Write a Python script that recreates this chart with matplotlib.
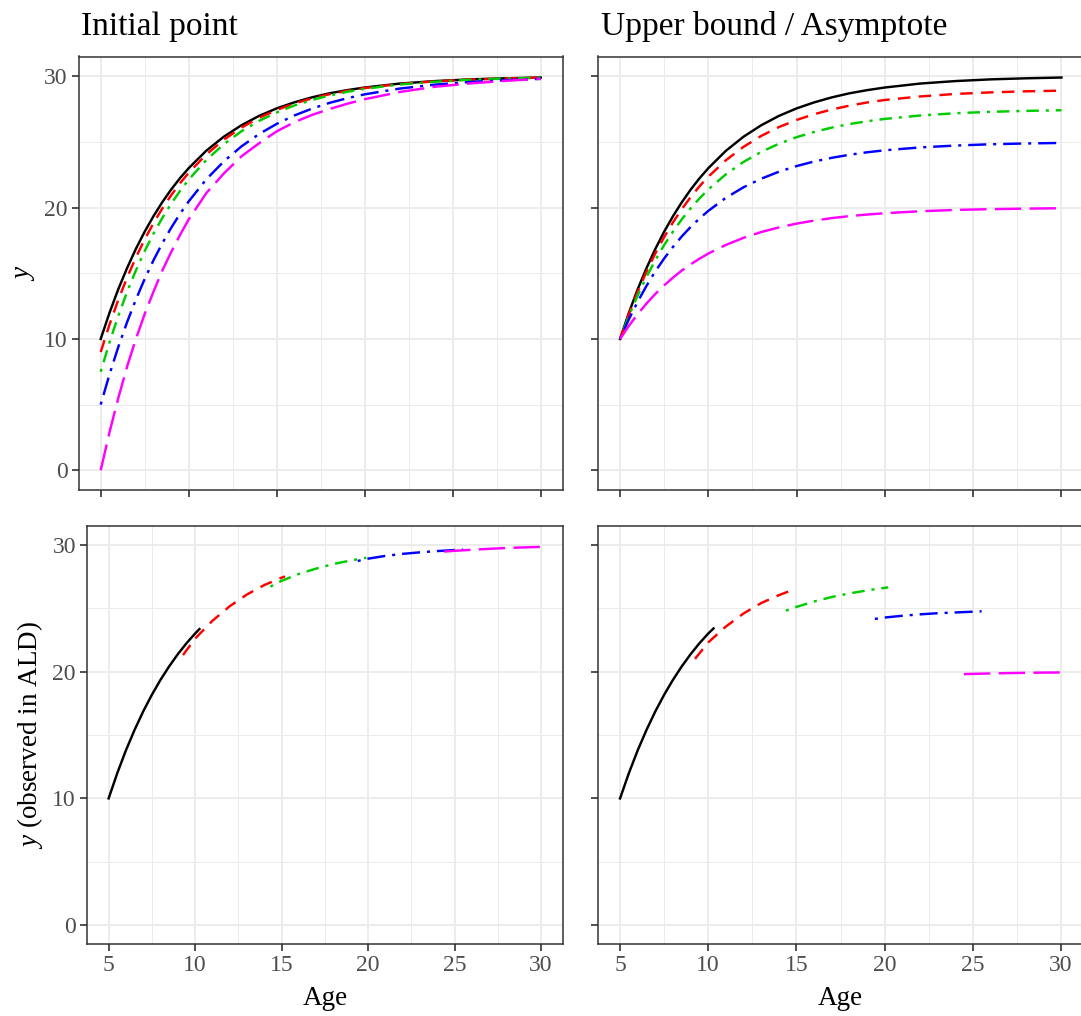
import numpy as np
import matplotlib
matplotlib.use("Agg")
import matplotlib.pyplot as plt
from matplotlib.ticker import MultipleLocator

plt.rcParams['font.family'] = ['Liberation Serif', 'DejaVu Serif']
plt.rcParams['mathtext.fontset'] = 'custom'
plt.rcParams['mathtext.it'] = 'Liberation Serif:italic'
plt.rcParams['mathtext.rm'] = 'Liberation Serif'
plt.rcParams['lines.scale_dashes'] = False

# ---- data ----
age = [5, 5.5, 6, 6.5, 7, 7.5, 8, 8.5, 9, 9.5, 10, 11, 12, 13, 14, 15,
       16, 17, 18, 19, 20, 22, 24, 26, 28, 30]

# initial point panel (all curves go to 30)
init_black = [10.00, 11.99, 13.79, 15.40, 16.86, 18.17, 19.35, 20.41, 21.37, 22.23, 23.00, 24.33, 25.40,
              26.27, 26.98, 27.55, 28.01, 28.39, 28.70, 28.94, 29.14, 29.44, 29.63, 29.76, 29.84, 29.90]
init_red = [9.00, 11.09, 12.98, 14.67, 16.20, 17.58, 18.82, 19.93, 20.93, 21.84, 22.65, 24.04, 25.17,
            26.09, 26.83, 27.43, 27.92, 28.31, 28.63, 28.89, 29.10, 29.41, 29.61, 29.74, 29.83, 29.89]
init_green = [7.50, 9.74, 11.76, 13.58, 15.22, 16.69, 18.02, 19.21, 20.29, 21.25, 22.13, 23.62, 24.83,
              25.81, 26.60, 27.24, 27.77, 28.19, 28.53, 28.81, 29.04, 29.37, 29.58, 29.73, 29.82, 29.88]
init_blue = [5.00, 7.30, 9.39, 11.28, 13.00, 14.57, 15.99, 17.28, 18.45, 19.51, 20.47, 22.15, 23.52,
             24.66, 25.60, 26.37, 27.01, 27.53, 27.97, 28.32, 28.62, 29.06, 29.36, 29.56, 29.70, 29.80]
init_magenta = [0.00, 2.90, 5.50, 7.90, 10.00, 11.90, 13.60, 15.20, 16.60, 17.90, 19.10, 21.10, 22.60,
                23.90, 24.90, 25.80, 26.50, 27.05, 27.50, 27.90, 28.25, 28.80, 29.20, 29.45, 29.65, 29.80]

# upper bound panel (all curves start at 10)
asym_black = init_black
asym_red = [10.00, 11.89, 13.60, 15.13, 16.52, 17.76, 18.88, 19.89, 20.80, 21.62, 22.35, 23.61, 24.63,
            25.46, 26.13, 26.67, 27.11, 27.47, 27.76, 28.00, 28.19, 28.46, 28.65, 28.77, 28.85, 28.90]
asym_green = [10.00, 11.75, 13.32, 14.73, 16.00, 17.15, 18.18, 19.11, 19.95, 20.70, 21.38, 22.54, 23.48,
              24.24, 24.86, 25.36, 25.76, 26.09, 26.36, 26.57, 26.75, 27.01, 27.18, 27.29, 27.36, 27.41]
asym_blue = [10.00, 11.50, 12.84, 14.05, 15.15, 16.13, 17.01, 17.81, 18.53, 19.17, 19.75, 20.75, 21.55,
             22.20, 22.73, 23.16, 23.51, 23.79, 24.02, 24.21, 24.36, 24.58, 24.72, 24.82, 24.88, 24.92]
asym_magenta = [10.00, 11.00, 11.89, 12.70, 13.43, 14.08, 14.67, 15.21, 15.68, 16.11, 16.50, 17.16, 17.70,
                18.14, 18.49, 18.78, 19.01, 19.20, 19.35, 19.47, 19.57, 19.72, 19.82, 19.88, 19.92, 19.95]

# observed windows (ALD), initial point
ald_init_black_age = [5, 5.5, 6, 6.5, 7, 7.5, 8, 8.5, 9, 9.5, 10, 10.25]
ald_init_black = [10.00, 11.99, 13.79, 15.40, 16.86, 18.17, 19.35, 20.41, 21.37, 22.23, 23.00, 23.35]
ald_init_red_age = [9.3, 10, 11, 12, 13, 14, 15, 15.2]
ald_init_red = [21.30, 22.60, 24.00, 25.15, 26.08, 26.82, 27.40, 27.50]
ald_init_green_age = [14.35, 15, 16, 17, 18, 19, 19.9]
ald_init_green = [26.70, 27.15, 27.70, 28.12, 28.48, 28.76, 28.97]
ald_init_blue_age = [19.4, 20, 21, 22, 23, 24, 25, 25.5]
ald_init_blue = [28.72, 28.90, 29.12, 29.28, 29.40, 29.50, 29.58, 29.62]
ald_init_magenta_age = [24.4, 25, 26, 27, 28, 29, 30]
ald_init_magenta = [29.46, 29.52, 29.60, 29.68, 29.74, 29.79, 29.83]

# observed windows (ALD), upper bound
ald_asym_black_age = [5, 5.5, 6, 6.5, 7, 7.5, 8, 8.5, 9, 9.5, 10, 10.3]
ald_asym_black = [10.00, 11.99, 13.79, 15.40, 16.86, 18.17, 19.35, 20.41, 21.37, 22.23, 23.00, 23.40]
ald_asym_red_age = [9.25, 10, 11, 12, 13, 14, 14.9]
ald_asym_red = [21.00, 22.30, 23.55, 24.58, 25.40, 26.02, 26.50]
ald_asym_green_age = [14.4, 15, 16, 17, 18, 19, 20, 20.2]
ald_asym_green = [24.80, 25.10, 25.52, 25.88, 26.16, 26.40, 26.60, 26.64]
ald_asym_blue_age = [19.45, 20, 21, 22, 23, 24, 25, 25.5]
ald_asym_blue = [24.15, 24.26, 24.40, 24.51, 24.60, 24.66, 24.72, 24.75]
ald_asym_magenta_age = [24.5, 25, 26, 27, 28, 29, 30]
ald_asym_magenta = [19.80, 19.82, 19.85, 19.88, 19.90, 19.92, 19.93]

colors = ['black', '#FF0000', '#00CD00', '#0000FF', '#FF00FF']
styles = ['-', (0, (9, 6)), (0, (2.2, 5, 9, 5)), (0, (2.2, 5, 13, 5)), (0, (19, 6))]
LW = 1.75

W, H = 1081, 1016
fig = plt.figure(figsize=(W / 100, H / 100), dpi=100)


def px_axes(l, t, r, b):
    return fig.add_axes([l / W, 1 - b / H, (r - l) / W, (b - t) / H])


def style(ax, xlabels=True, ylabels=True):
    ax.set_xlim(3.75, 31.25)
    ax.set_ylim(-1.5, 31.5)
    ax.xaxis.set_major_locator(MultipleLocator(5))
    ax.xaxis.set_minor_locator(MultipleLocator(2.5))
    ax.yaxis.set_major_locator(MultipleLocator(10))
    ax.yaxis.set_minor_locator(MultipleLocator(5))
    ax.grid(which='major', color='#EBEBEB', lw=1.3)
    ax.grid(which='minor', color='#EBEBEB', lw=0.7)
    ax.set_axisbelow(True)
    for s in ax.spines.values():
        s.set_color('#333333')
        s.set_linewidth(1.1)
    ax.tick_params(which='major', length=5, width=1.2, color='#333333',
                   labelsize=17, labelcolor='#4D4D4D', pad=3)
    ax.tick_params(which='minor', length=0)
    if not xlabels:
        ax.tick_params(axis='x', labelbottom=False)
    if not ylabels:
        ax.tick_params(axis='y', labelleft=False)


ax1 = px_axes(78.7, 56.5, 562.7, 490)
ax2 = px_axes(598, 56.5, 1083.5, 490)
ax3 = px_axes(87, 525.7, 562.6, 944.3)
ax4 = px_axes(598, 525.7, 1083, 944.3)

for ys, c, ls in zip([init_black, init_red, init_green, init_blue, init_magenta], colors, styles):
    ax1.plot(age, ys, color=c, ls=ls, lw=LW)
for ys, c, ls in zip([asym_black, asym_red, asym_green, asym_blue, asym_magenta], colors, styles):
    ax2.plot(age, ys, color=c, ls=ls, lw=LW)

bl = [(ald_init_black_age, ald_init_black), (ald_init_red_age, ald_init_red),
      (ald_init_green_age, ald_init_green), (ald_init_blue_age, ald_init_blue),
      (ald_init_magenta_age, ald_init_magenta)]
br = [(ald_asym_black_age, ald_asym_black), (ald_asym_red_age, ald_asym_red),
      (ald_asym_green_age, ald_asym_green), (ald_asym_blue_age, ald_asym_blue),
      (ald_asym_magenta_age, ald_asym_magenta)]
for (xs, ys), c, ls in zip(bl, colors, styles):
    ax3.plot(xs, ys, color=c, ls=ls, lw=LW)
for (xs, ys), c, ls in zip(br, colors, styles):
    ax4.plot(xs, ys, color=c, ls=ls, lw=LW)

style(ax1, xlabels=False)
style(ax2, xlabels=False, ylabels=False)
style(ax3)
style(ax4, ylabels=False)

fig.text(81 / W, 1 - 35 / H, 'Initial point', fontsize=24, va='baseline', ha='left')
fig.text(601 / W, 1 - 35 / H, 'Upper bound / Asymptote', fontsize=24, va='baseline', ha='left')

ax1.set_ylabel(r'$\mathit{y}$', fontsize=19.5, labelpad=5)
ax3.set_ylabel(r'$\mathit{y}$ (observed in ALD)', fontsize=19.5, labelpad=5)
ax3.set_xlabel('Age', fontsize=19.5, labelpad=7)
ax4.set_xlabel('Age', fontsize=19.5, labelpad=7)

fig.savefig('out.png', dpi=100)
